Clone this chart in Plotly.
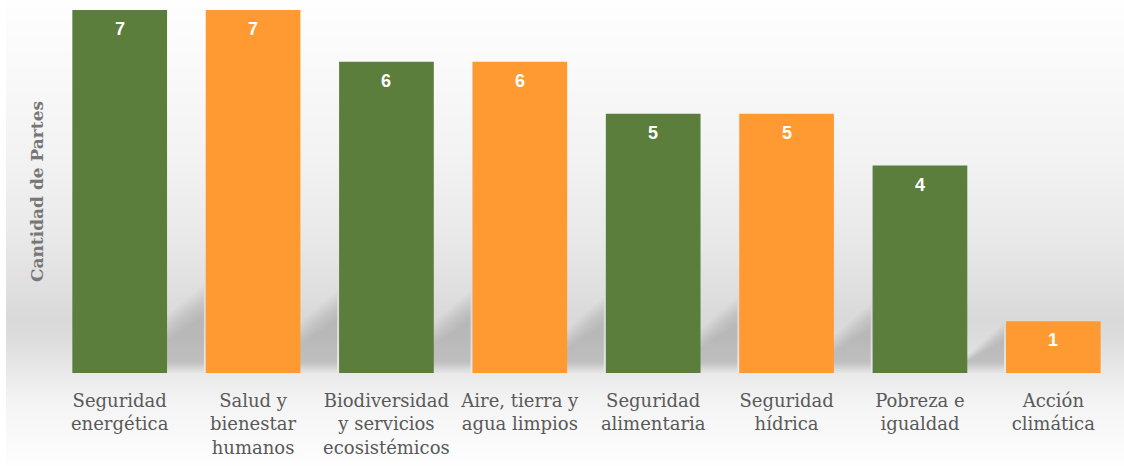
import numpy as np
import plotly.graph_objects as go

# ---- data ----
categories = [
    "Seguridad<br>energética",
    "Salud y<br>bienestar<br>humanos",
    "Biodiversidad<br>y servicios<br>ecosistémicos",
    "Aire, tierra y<br>agua limpios",
    "Seguridad<br>alimentaria",
    "Seguridad<br>hídrica",
    "Pobreza e<br>igualdad",
    "Acción<br>climática",
]
values = [7, 7, 6, 6, 5, 5, 4, 1]
y_title = "Cantidad de Partes"

GREEN = "#5B7E3C"
ORANGE = "#FF9A33"
bar_colors = [GREEN if i % 2 == 0 else ORANGE for i in range(len(values))]
BAR_W = 0.71

xs = list(range(len(values)))

fig = go.Figure()
fig.add_trace(go.Bar(
    x=xs, y=values, width=BAR_W,
    marker=dict(color=bar_colors, line=dict(width=0)),
    hoverinfo="skip",
))

shapes = []
# background vertical gradient (plot area: y 10..373 px of 466)
H_TOP, H_BOT = 10, 373
span = H_BOT - H_TOP
stops_p = [0, 60, 150, 230, 290, 318, 340, 373, 400, 440, 466]
stops_g = [254, 250, 243, 234, 223, 217, 221, 233, 243, 250, 254]
step = 2
for p in range(0, 466, step):
    g = int(round(np.interp(p + step / 2, stops_p, stops_g)))
    shapes.append(dict(
        type="rect", xref="paper", yref="paper", layer="below",
        x0=-0.044, x1=1.004,
        y0=(H_BOT - (p + step)) / span, y1=(H_BOT - p) / span,
        line=dict(width=0), fillcolor=f"rgb({g},{g},{g})",
    ))

# soft diagonal shadows cast by each bar into the gap on its left
n_layers = 10
for i, v in enumerate(values):
    if i == 0:
        continue
    h = min(v, 0.8 + 0.12 * v)
    xl = i - BAR_W / 2 - 0.015
    for k in range(n_layers):
        sc = 1.04 - 0.04 * k
        hh = h * sc
        d = hh / 2.2
        y_base = 0.025 * k
        path = f"M {xl} {y_base} L {xl} {hh} L {xl - d} {y_base} Z"
        shapes.append(dict(
            type="path", xref="x", yref="y", layer="below", path=path,
            line=dict(width=0), fillcolor="rgba(100,100,100,0.035)",
        ))

annotations = []
for i, v in enumerate(values):
    annotations.append(dict(
        x=i, y=v, xref="x", yref="y", text=f"<b>{v}</b>", showarrow=False,
        yanchor="top", yshift=-7,
        font=dict(family="Liberation Sans, Arial, sans-serif", size=18, color="white"),
    ))

fig.update_layout(
    width=1124, height=466,
    margin=dict(l=53, r=4, t=10, b=93),
    paper_bgcolor="white", plot_bgcolor="rgba(0,0,0,0)",
    showlegend=False, bargap=0.29,
    shapes=shapes, annotations=annotations,
    xaxis=dict(
        range=[-0.5, len(values) - 0.5], tickmode="array",
        tickvals=xs, ticktext=categories,
        showgrid=False, zeroline=False, showline=False, ticks="",
        ticklabelstandoff=15,
        tickfont=dict(family="DejaVu Serif, serif", size=18, color="#595959"),
    ),
    yaxis=dict(
        range=[0, 7], showgrid=False, zeroline=False, showline=False,
        showticklabels=False, ticks="",
        title=dict(text=f"<b>{y_title}</b>", standoff=4,
                   font=dict(family="DejaVu Serif, serif", size=17, color="#777777")),
    ),
)

fig.write_html(
    "out.html",
    config={"displayModeBar": False},
    post_script="document.body.style.margin='0';document.body.style.overflow='hidden';",
)
